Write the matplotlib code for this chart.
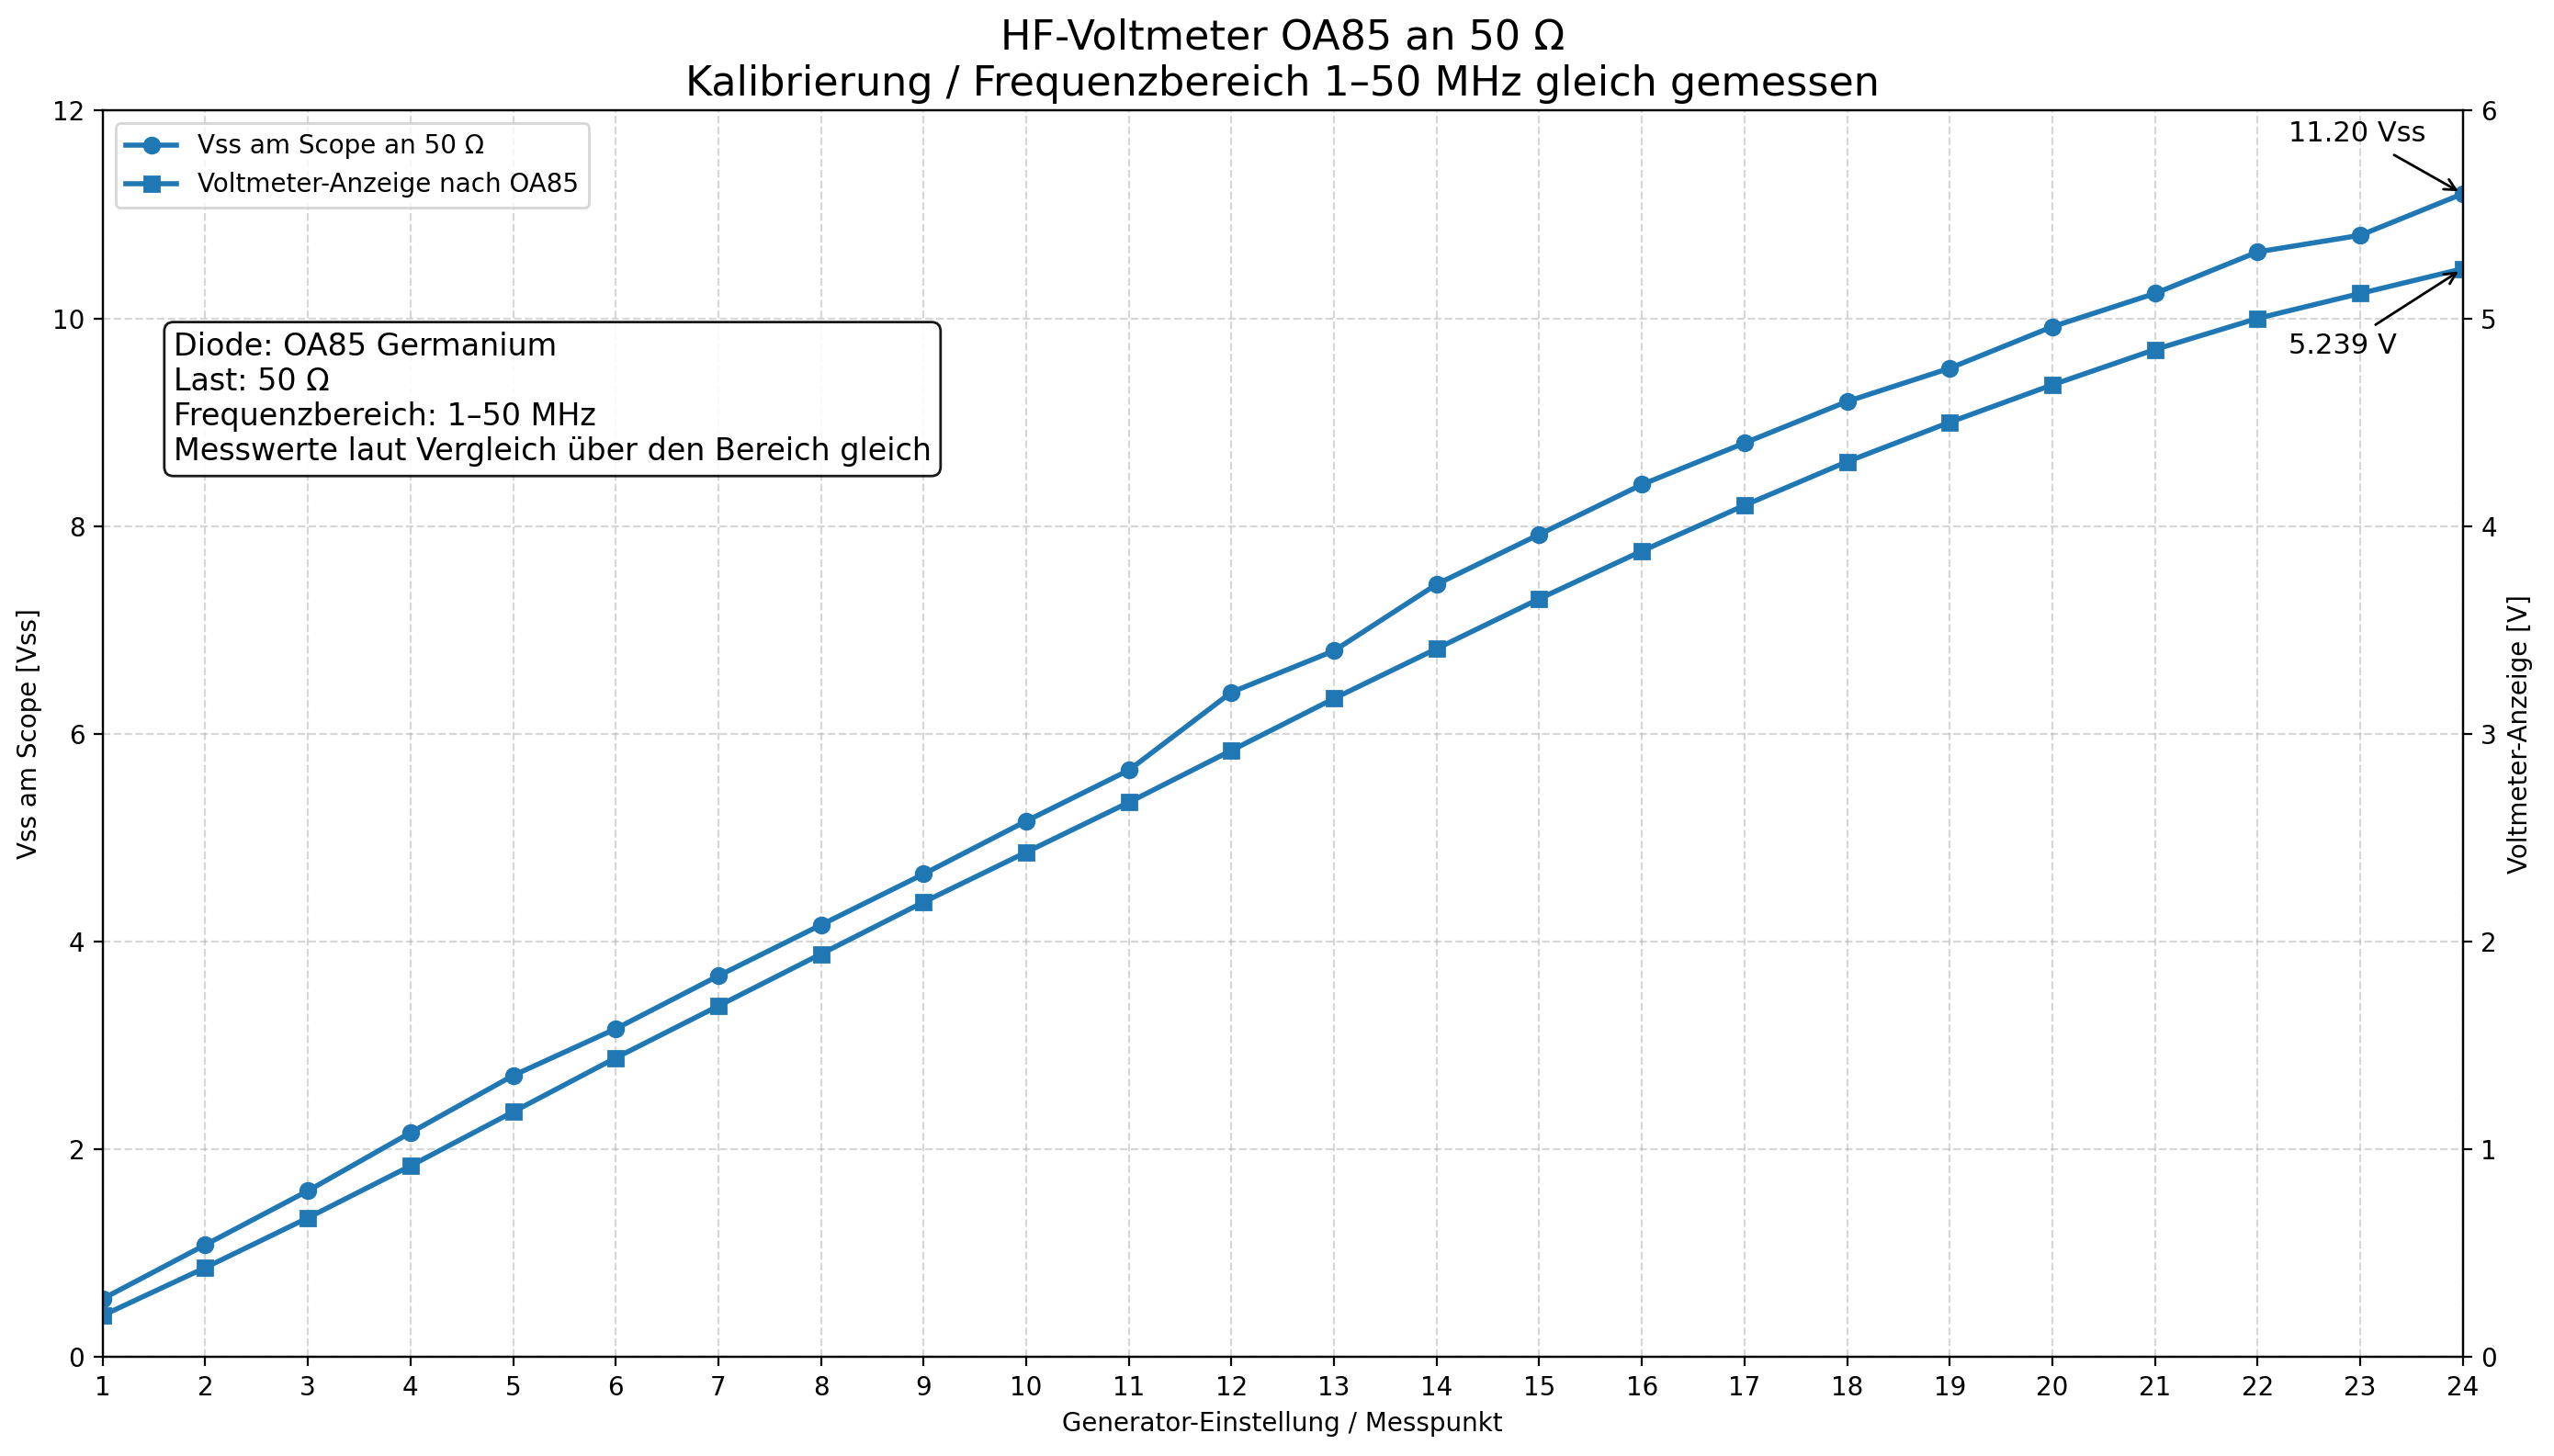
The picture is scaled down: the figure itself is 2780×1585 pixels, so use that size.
import matplotlib.pyplot as plt
import numpy as np

punkte = np.arange(1, 25)
vss_scope = [0.56, 1.08, 1.60, 2.16, 2.71, 3.16, 3.67, 4.16, 4.65, 5.16, 5.65, 6.40,
             6.80, 7.44, 7.92, 8.40, 8.80, 9.20, 9.52, 9.92, 10.24, 10.64, 10.80, 11.20]
anzeige = [0.20, 0.43, 0.67, 0.92, 1.18, 1.44, 1.69, 1.94, 2.19, 2.43, 2.67, 2.92,
           3.17, 3.41, 3.65, 3.88, 4.10, 4.31, 4.50, 4.68, 4.85, 5.00, 5.12, 5.239]

fig, ax = plt.subplots(figsize=(13.9, 7.925), dpi=200)
ax2 = ax.twinx()

l1, = ax.plot(punkte, vss_scope, marker="o", lw=2, color="tab:blue",
              label="Vss am Scope an 50 Ω")
l2, = ax2.plot(punkte, anzeige, marker="s", lw=2, color="tab:blue",
               label="Voltmeter-Anzeige nach OA85")

ax.set_xlim(1, 24)
ax.set_ylim(0, 12)
ax2.set_ylim(0, 6)
ax.set_xticks(punkte)
ax.set_xlabel("Generator-Einstellung / Messpunkt")
ax.set_ylabel("Vss am Scope [Vss]")
ax2.set_ylabel("Voltmeter-Anzeige [V]")
ax.grid(True, linestyle="--", alpha=0.5)

ax.legend([l1, l2], [l1.get_label(), l2.get_label()], loc="upper left")

ax.text(0.03, 0.823, "Diode: OA85 Germanium\nLast: 50 Ω\nFrequenzbereich: 1–50 MHz\n"
        "Messwerte laut Vergleich über den Bereich gleich",
        transform=ax.transAxes, fontsize=12, va="top", ha="left",
        bbox=dict(boxstyle="round", facecolor="white", alpha=0.9))

ax.annotate(f"{vss_scope[-1]:.2f} Vss", xy=(punkte[-1], vss_scope[-1]),
            xytext=(22.3, 11.7), fontsize=11,
            arrowprops=dict(arrowstyle="->", color="black"))
ax2.annotate(f"{anzeige[-1]:.3f} V", xy=(punkte[-1], anzeige[-1]),
             xytext=(22.3, 4.83), fontsize=11,
             arrowprops=dict(arrowstyle="->", color="black"))

plt.title("HF-Voltmeter OA85 an 50 Ω\nKalibrierung / Frequenzbereich 1–50 MHz gleich gemessen",
          fontsize=16)
plt.subplots_adjust(left=0.0402, right=0.9643, top=0.924, bottom=0.068)
plt.savefig("out.png")
